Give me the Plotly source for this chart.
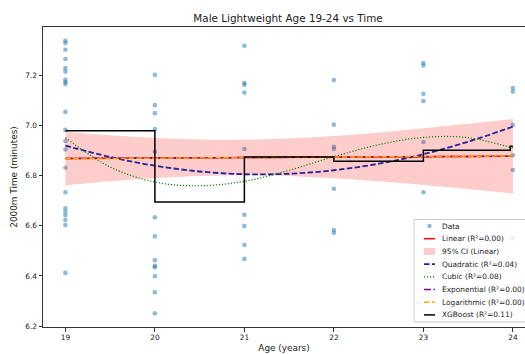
import plotly.graph_objects as go

# ---- observed 2000m times (minutes) by age ----
ages = [19, 20, 21, 22, 23, 24]
times_19 = [7.339, 7.330, 7.303, 7.266, 7.230, 7.216, 7.183, 7.174, 7.166, 7.055,
            6.983, 6.939, 6.905, 6.832, 6.734, 6.670, 6.656, 6.642, 6.623, 6.603, 6.412]
times_20 = [7.203, 7.082, 7.050, 6.986, 6.896, 6.634, 6.558, 6.463, 6.440, 6.435,
            6.399, 6.335, 6.251]
times_21 = [7.319, 7.170, 7.163, 7.132, 6.907, 6.644, 6.599, 6.524, 6.468]
times_22 = [7.182, 7.004, 6.916, 6.907, 6.748, 6.583, 6.572]
times_23 = [7.250, 7.240, 7.127, 7.098, 6.935, 6.734]
times_24 = [7.150, 7.136, 7.003, 6.882, 6.823, 6.550]
times_by_age = [times_19, times_20, times_21, times_22, times_23, times_24]

# ---- fitted models ----
line_age = [19, 24]
linear_fit = [6.869, 6.878]
exponential_fit = [6.869, 6.878]
logarithmic_fit = [6.868, 6.879]

ci_age = [19, 20, 21, 22, 23, 24]
ci_upper = [6.976, 6.951, 6.944, 6.959, 6.990, 7.027]
ci_lower = [6.762, 6.791, 6.802, 6.790, 6.763, 6.729]

curve_age = [19, 19.5, 20, 20.5, 21, 21.5, 22, 22.5, 23, 23.5, 24]
quadratic_fit = [6.920, 6.875, 6.840, 6.817, 6.806, 6.808, 6.822, 6.848, 6.886, 6.936, 6.996]
cubic_fit = [6.952, 6.835, 6.775, 6.760, 6.778, 6.822, 6.876, 6.924, 6.953, 6.952, 6.910]

xgb_age = [19, 20, 21, 22, 23, 23.97, 24]
xgb_fit = [6.980, 6.695, 6.875, 6.858, 6.902, 6.918, 6.918]

legend_labels = ["Data", "Linear (R²=0.00)", "95% CI (Linear)", "Quadratic (R²=0.04)",
                 "Cubic (R²=0.08)", "Exponential (R²=0.00)", "Logarithmic (R²=0.00)",
                 "XGBoost (R²=0.11)"]

# ---- layout geometry ----
W, H = 525, 354
ML, MR, MT, MB = 43, 0, 27, 27
FONT = "DejaVu Sans"
TXT = "#222222"

DASH = "5.5px,2.4px"
DOT = "1.2px,1.8px"
DASHDOT = "7px,2.4px,1.5px,2.4px"

STYLES = {
    "linear": dict(color="red", width=1.5, dash="solid"),
    "quadratic": dict(color="#22229a", width=1.8, dash=DASH),
    "cubic": dict(color="green", width=1.2, dash=DOT),
    "exponential": dict(color="purple", width=1.5, dash=DASHDOT),
    "logarithmic": dict(color="orange", width=1.5, dash=DASH),
    "xgboost": dict(color="black", width=1.5, dash="solid"),
}
CI_FILL = "rgba(255,0,0,0.2)"
DOT_COLOR = "rgba(31,119,180,0.5)"


def px_x(p):
    return (p - ML) / (W - ML - MR)


def px_y(p):
    return (H - MB - p) / (H - MT - MB)


fig = go.Figure()

# scatter of observations
xs, ys = [], []
for a, ts in zip(ages, times_by_age):
    xs += [a] * len(ts)
    ys += ts
fig.add_trace(go.Scatter(x=xs, y=ys, mode="markers",
                         marker=dict(size=4.6, color=DOT_COLOR, line=dict(width=0)),
                         name=legend_labels[0], showlegend=False))

# confidence band around the linear fit
fig.add_trace(go.Scatter(x=ci_age, y=ci_lower, mode="lines", line=dict(width=0, shape="spline"),
                         showlegend=False, hoverinfo="skip"))
fig.add_trace(go.Scatter(x=ci_age, y=ci_upper, mode="lines", line=dict(width=0, shape="spline"),
                         fill="tonexty", fillcolor=CI_FILL, showlegend=False,
                         name=legend_labels[2]))

fig.add_trace(go.Scatter(x=line_age, y=linear_fit, mode="lines",
                         line=STYLES["linear"], showlegend=False, name=legend_labels[1]))
fig.add_trace(go.Scatter(x=curve_age, y=quadratic_fit, mode="lines",
                         line=dict(**STYLES["quadratic"], shape="spline"),
                         showlegend=False, name=legend_labels[3]))
fig.add_trace(go.Scatter(x=curve_age, y=cubic_fit, mode="lines",
                         line=dict(**STYLES["cubic"], shape="spline"),
                         showlegend=False, name=legend_labels[4]))
fig.add_trace(go.Scatter(x=line_age, y=exponential_fit, mode="lines",
                         line=STYLES["exponential"], showlegend=False, name=legend_labels[5]))
fig.add_trace(go.Scatter(x=line_age, y=logarithmic_fit, mode="lines",
                         line=STYLES["logarithmic"], showlegend=False, name=legend_labels[6]))
fig.add_trace(go.Scatter(x=xgb_age, y=xgb_fit, mode="lines",
                         line=dict(**STYLES["xgboost"], shape="hv"),
                         showlegend=False, name=legend_labels[7]))

# ---- legend box drawn with shapes and annotations ----
shapes = []
annotations = []
box_l, box_r, box_t, box_b = 414, 548, 219.5, 322
shapes.append(dict(type="rect", xref="paper", yref="paper", layer="above",
                   x0=px_x(box_l), x1=px_x(box_r), y0=px_y(box_b), y1=px_y(box_t),
                   fillcolor="rgba(255,255,255,0.8)", line=dict(color="#cccccc", width=1)))
row0, row_gap = 226, 12.7
sym_l, sym_r, text_l = 424, 435, 440
dot_cx = 429.5
entry_styles = [None, "linear", "ci", "quadratic", "cubic", "exponential", "logarithmic", "xgboost"]
for i, (lab, st) in enumerate(zip(legend_labels, entry_styles)):
    yc = row0 + i * row_gap
    if st is None:
        r = 2.2
        shapes.append(dict(type="circle", xref="paper", yref="paper", layer="above",
                           x0=px_x(dot_cx - r), x1=px_x(dot_cx + r),
                           y0=px_y(yc + r), y1=px_y(yc - r),
                           fillcolor=DOT_COLOR, line=dict(width=0)))
    elif st == "ci":
        shapes.append(dict(type="rect", xref="paper", yref="paper", layer="above",
                           x0=px_x(sym_l), x1=px_x(sym_r), y0=px_y(yc + 3.5), y1=px_y(yc - 3.5),
                           fillcolor=CI_FILL, line=dict(width=0)))
    else:
        s = STYLES[st]
        shapes.append(dict(type="line", xref="paper", yref="paper", layer="above",
                           x0=px_x(sym_l), x1=px_x(sym_r), y0=px_y(yc), y1=px_y(yc),
                           line=dict(color=s["color"], width=s["width"], dash=s["dash"])))
    annotations.append(dict(text=lab, xref="paper", yref="paper", showarrow=False,
                            x=px_x(text_l), y=px_y(yc), xanchor="left", yanchor="middle",
                            font=dict(family=FONT, size=7.4, color=TXT)))

fig.update_layout(
    width=W, height=H,
    margin=dict(l=ML, r=MR, t=MT, b=MB, pad=0, autoexpand=False),
    paper_bgcolor="white", plot_bgcolor="white",
    showlegend=False,
    font=dict(family=FONT, color=TXT),
    title=dict(text="Male Lightweight Age 19-24 vs Time", font=dict(size=10.4, color=TXT),
               x=288 / W, xref="container", xanchor="center",
               y=1 - 18 / H, yref="container", yanchor="middle"),
    shapes=shapes, annotations=annotations,
)
fig.update_xaxes(range=[18.75, 18.75 + (W - ML - MR) / 89.5], tickvals=ages,
                 showgrid=False, zeroline=False, showline=True, mirror=True,
                 linecolor="#333333", linewidth=1, ticks="outside", ticklen=3.5,
                 tickcolor="#333333", tickfont=dict(size=7.4, color=TXT),
                 title=dict(text="Age (years)", font=dict(size=8.9, color=TXT), standoff=3))
fig.update_yaxes(range=[6.196, 7.394], tickvals=[6.2, 6.4, 6.6, 6.8, 7.0, 7.2],
                 tickformat=".1f", showgrid=False, zeroline=False, showline=True,
                 linecolor="#333333", linewidth=1, ticks="outside", ticklen=3.5,
                 tickcolor="#333333", tickfont=dict(size=7.4, color=TXT),
                 title=dict(text="2000m Time (minutes)", font=dict(size=8.9, color=TXT),
                            standoff=6))

fig.write_html("out.html")
